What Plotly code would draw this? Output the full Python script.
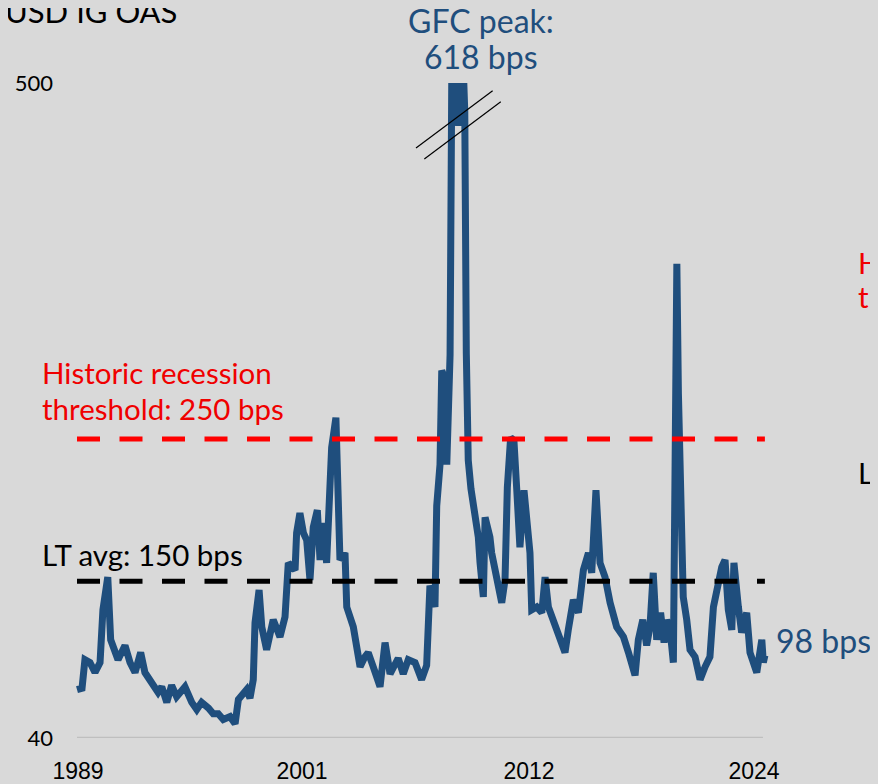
import plotly.graph_objects as go

# ---- data (decimal year, OAS in bps) ----
years = [1989.00, 1989.26, 1989.41, 1989.67, 1989.93, 1990.19, 1990.34, 1990.59, 1990.74, 1991.12,
         1991.48, 1991.74, 1992.00, 1992.29, 1992.51, 1992.77, 1993.19, 1993.38, 1993.64, 1993.89,
         1994.15, 1994.58, 1994.93, 1995.19, 1995.44, 1995.79, 1996.04, 1996.30, 1996.56, 1996.91,
         1997.17, 1997.34, 1997.59, 1997.77, 1997.94, 1998.11, 1998.20, 1998.41, 1998.55, 1998.80,
         1999.14, 1999.49, 1999.75, 1999.92, 2000.27, 2000.35, 2000.52, 2000.70, 2000.87, 2001.04,
         2001.21, 2001.42, 2001.56, 2001.73, 2001.90, 2001.99, 2002.16, 2002.38, 2002.50, 2002.59,
         2002.85, 2002.94, 2003.28, 2003.45, 2003.63, 2003.88, 2004.05, 2004.31, 2004.66, 2004.92,
         2005.18, 2005.60, 2005.86, 2006.12, 2006.47, 2006.81, 2007.07, 2007.24, 2007.50, 2007.59,
         2007.76, 2007.85, 2008.02, 2008.11, 2008.28, 2008.38, 2008.48, 2008.62, 2008.72, 2008.84,
         2008.96, 2009.04, 2009.12, 2009.22, 2009.36, 2009.57, 2009.74, 2009.83, 2010.00, 2010.09,
         2010.34, 2010.43, 2010.69, 2010.95, 2011.12, 2011.24, 2011.41, 2011.58, 2011.72, 2011.89,
         2012.10, 2012.24, 2012.41, 2012.50, 2012.76, 2013.02, 2013.19, 2013.36, 2013.62, 2013.96,
         2014.22, 2014.39, 2014.65, 2014.91, 2015.17, 2015.43, 2015.60, 2015.82, 2016.03, 2016.29,
         2016.55, 2016.89, 2017.24, 2017.50, 2017.84, 2018.01, 2018.24, 2018.44, 2018.61, 2018.78,
         2018.96, 2019.16, 2019.34, 2019.47, 2019.65, 2019.82, 2020.00, 2020.08, 2020.20, 2020.33,
         2020.51, 2020.68, 2020.94, 2021.20, 2021.46, 2021.71, 2021.89, 2022.06, 2022.32, 2022.49,
         2022.66, 2022.84, 2022.95, 2023.18, 2023.35, 2023.61, 2023.78, 2024.13, 2024.39, 2024.47,
         2024.55]
oas = [74, 75, 95, 93, 86, 93, 130, 153, 109, 95,
       105, 93, 86, 100, 86, 81, 72, 76, 65, 77,
       69, 76, 65, 60, 65, 61, 57, 57, 53, 55,
       50, 67, 72, 74, 68, 81, 121, 144, 118, 102,
       123, 111, 125, 163, 158, 184, 198, 184, 179, 151,
       188, 200, 165, 191, 163, 193, 244, 265, 219, 165,
       170, 132, 118, 100, 90, 97, 100, 90, 76, 107,
       85, 96, 85, 95, 93, 81, 91, 147, 132, 203,
       232, 298, 292, 232, 309, 530, 618, 500, 470, 560,
       520, 480, 310, 235, 215, 198, 181, 163, 139, 195,
       181, 170, 153, 135, 151, 216, 251, 249, 216, 174,
       214, 188, 170, 130, 132, 128, 153, 132, 123, 109,
       100, 116, 137, 128, 158, 170, 156, 214, 163, 153,
       135, 118, 111, 100, 84, 109, 123, 105, 118, 156,
       109, 128, 107, 123, 116, 93, 373, 282, 212, 139,
       123, 102, 97, 81, 90, 97, 132, 144, 160, 165,
       130, 116, 163, 132, 114, 128, 100, 86, 109, 93,
       98]

recession_threshold = 250
lt_avg = 150
gfc_peak = 618
latest = 98

tick_pos = [1989.05, 2000.63, 2012.36, 2023.99]
tick_text = ["1989", "2001", "2012", "2024"]
y_ticks = [40, 500]

BLUE = "#1f4e7d"
RED = "#ff0000"
BG = "#d9d9d9"
FONT = "Lato"

# page body has an 8px margin (top/left): work in page pixels and shift
OFF = 8
W, H = 878 - OFF, 784 - OFF
L, R, T, B = 70 - OFF, 108, 83 - OFF, 46
pw, ph = W - L - R, H - T - B

fig = go.Figure()
fig.add_trace(go.Scatter(x=years, y=oas, mode="lines",
                         line=dict(color=BLUE, width=7), hoverinfo="skip",
                         showlegend=False))

x_start, x_end = years[0], years[-1]
shapes = [
    dict(type="line", xref="x", yref="y", x0=x_start, x1=2024.45, y0=40, y1=40,
         line=dict(color="#bfbfbf", width=2.5), layer="below"),
    dict(type="line", xref="x", yref="y", x0=x_start, x1=x_end,
         y0=recession_threshold, y1=recession_threshold,
         line=dict(color=RED, width=5, dash="23px,19.5px")),
    dict(type="line", xref="x", yref="y", x0=x_start, x1=x_end, y0=lt_avg, y1=lt_avg,
         line=dict(color="black", width=5, dash="23px,19.5px")),
    # axis break marks near the GFC peak
    dict(type="line", xref="x", yref="y", x0=2006.52, x1=2010.48, y0=454.3, y1=494.6,
         line=dict(color="black", width=1.2)),
    dict(type="line", xref="x", yref="y", x0=2006.95, x1=2010.90, y0=446.6, y1=486.9,
         line=dict(color="black", width=1.2)),
]

ann = []
def A(text, x, y, size, color, xanchor="left", yanchor="middle"):
    ann.append(dict(text=text, x=(x - OFF - L) / pw, y=(H - B - (y - OFF)) / ph,
                    xref="paper", yref="paper", xanchor=xanchor,
                    yanchor=yanchor, showarrow=False,
                    font=dict(family=FONT, size=size, color=color)))

A("USD IG OAS", 3, 11, 31, "black")
A("GFC peak:", 481, 20, 32, BLUE, xanchor="center")
A(f"{gfc_peak} bps", 481, 57, 32, BLUE, xanchor="center")
A("Historic recession", 40, 372, 29.5, "#f00000")
A(f"threshold: {recession_threshold} bps", 40, 408, 29.5, "#f00000")
A(f"LT avg: {lt_avg} bps", 40, 554, 29.5, "black")
A(f"{latest} bps", 774, 640, 32, BLUE)
A("Historic recession", 856, 262, 29.5, "#f00000")
A(f"threshold: {recession_threshold} bps", 856, 296, 29.5, "#f00000")
A(f"LT avg: {lt_avg} bps", 856, 472, 29.5, "black")

fig.update_layout(
    width=W, height=H, paper_bgcolor=BG, plot_bgcolor=BG,
    margin=dict(l=L, r=R, t=T, b=B, pad=0, autoexpand=False),
    shapes=shapes, annotations=ann, showlegend=False,
    font=dict(family=FONT, color="black"),
)
x0_range = 1989.0 - (77 - 70) / 19.35
x1_range = 1989.0 + (878 - 108 - 77) / 19.35
fig.update_xaxes(range=[x0_range, x1_range], showgrid=False, zeroline=False,
                 showline=False, tickvals=tick_pos, ticktext=tick_text, ticks="",
                 ticklabelstandoff=17, automargin=False,
                 tickfont=dict(family="Liberation Sans", size=23, color="black"))
fig.update_yaxes(range=[40, 500], showgrid=False, zeroline=False, showline=False,
                 tickvals=y_ticks, ticks="", ticklabelstandoff=16, automargin=False,
                 tickfont=dict(family=FONT, size=22, color="black"))

fig.write_html("out.html",
               post_script="document.body.style.background='#d9d9d9';")
